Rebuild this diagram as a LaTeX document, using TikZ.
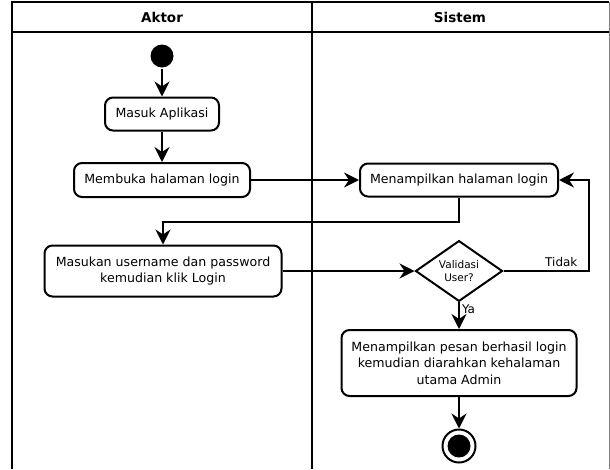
\documentclass[tikz,border=0pt]{standalone}
\usepackage{fontspec}
\setmainfont{DejaVu Sans}
\usetikzlibrary{arrows.meta,shapes.geometric}

\begin{document}
\begin{tikzpicture}[x=1pt, y=-1pt, line width=2pt,
    >={Stealth[length=15pt, width=15pt, inset=5pt]},
    act/.style = {draw, rounded corners=8pt, align=center, inner sep=0pt, font=\fontsize{12.6}{16.5}\selectfont},
    decision/.style = {draw, diamond, align=center, inner sep=0pt, minimum width=87pt, minimum height=53pt, font=\fontsize{10.5}{12.5}\selectfont},
    lane/.style = {font=\bfseries\fontsize{13.5}{15}\selectfont},
    lbl/.style = {font=\fontsize{12}{14}\selectfont}]
    \useasboundingbox (0,0) rectangle (610,469);

    % swimlanes
    \draw (12,469) -- (12,2) -- (609,2);
    \draw (12,32) -- (609,32);
    \draw (312,2) -- (312,469);
    \draw[gray, line width=1pt] (609,2) -- (609,469);
    \node[lane] (h_aktor) at (162,17) {Aktor};
    \node[lane] (h_sistem) at (460,17) {Sistem};

    \node[circle, fill, minimum size=23pt, inner sep=0pt] (n_start) at (162,56) {};
    \node[act, minimum width=114pt, minimum height=33pt] (n_masuk) at (162,114) {Masuk Aplikasi};
    \node[act, minimum width=176pt, minimum height=34pt] (n_buka) at (162,180) {Membuka halaman login};
    \node[act, minimum width=198pt, minimum height=33pt] (n_tampil) at (459,180) {Menampilkan halaman login};
    \node[act, minimum width=237pt, minimum height=51pt] (n_input) at (163,271) {Masukan username dan password\\kemudian klik Login};
    \node[decision] (n_valid) at (459,271) {Validasi\\User?};
    \node[act, minimum width=235pt, minimum height=66pt] (n_hasil) at (459,363) {Menampilkan pesan berhasil login\\kemudian diarahkan kehalaman\\utama Admin};
    \node[circle, draw, minimum size=33pt, inner sep=0pt] (n_end) at (459,446) {};
    \fill (n_end) circle (11.5);

    \draw[->] (n_start) -- (n_masuk);
    \draw[->] (n_masuk) -- (n_buka);
    \draw[->] (n_buka) -- (n_tampil);
    \draw[->] (n_tampil.south) -- ++(0,24) -| (n_input.north);
    \draw[->] (n_input) -- (n_valid);
    \draw[->] (n_valid.east) -- node[lbl, above, pos=0.68] {Tidak} ++(85,0) |- (n_tampil.east);
    \draw[->] (n_valid) -- node[lbl, right, inner sep=2pt, pos=0.25] {Ya} (n_hasil);
    \draw[->] (n_hasil) -- (n_end);
\end{tikzpicture}
\end{document}
